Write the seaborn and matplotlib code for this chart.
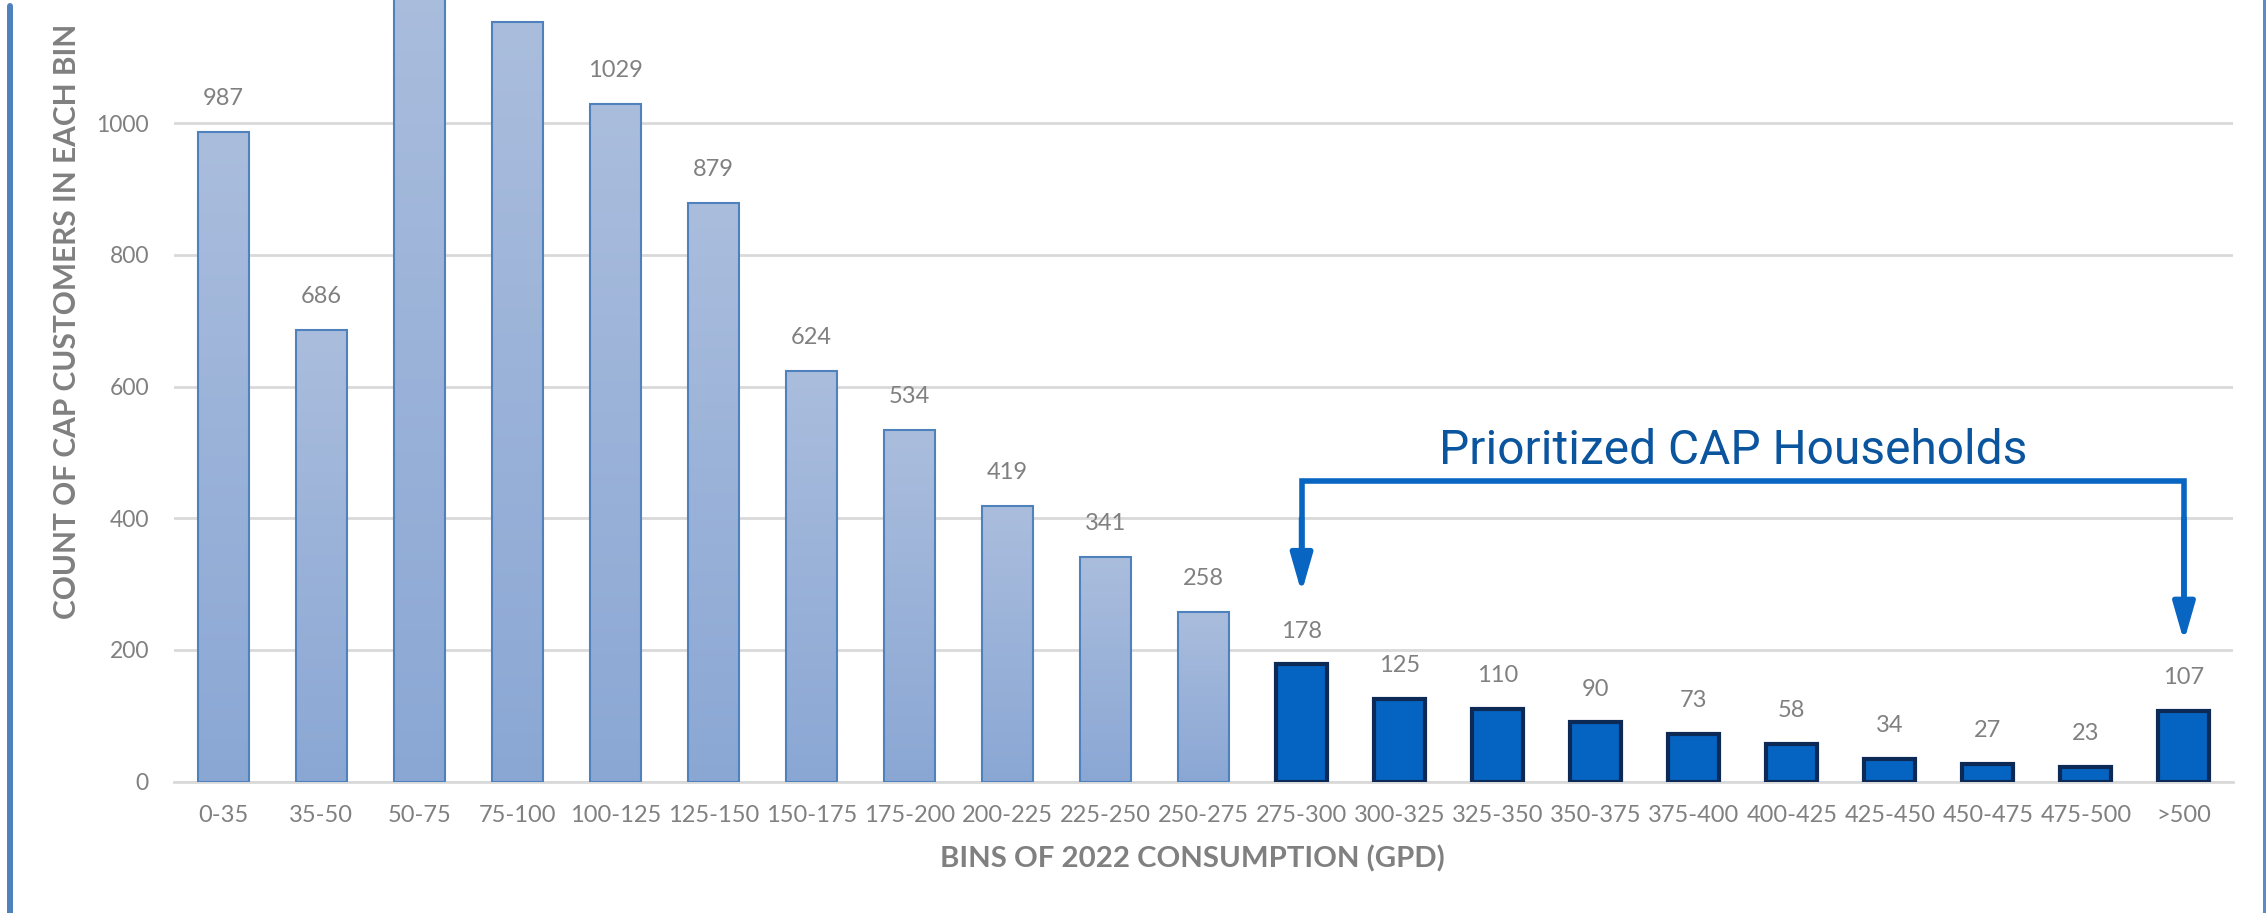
import numpy as np
import pandas as pd
import matplotlib
matplotlib.use("Agg")
import matplotlib.pyplot as plt
from matplotlib.lines import Line2D
from matplotlib.colors import LinearSegmentedColormap
import seaborn as sns

# ---------------- data ----------------
bins = ["0-35", "35-50", "50-75", "75-100", "100-125", "125-150", "150-175",
        "175-200", "200-225", "225-250", "250-275", "275-300", "300-325",
        "325-350", "350-375", "375-400", "400-425", "425-450", "450-475",
        "475-500", ">500"]
counts = [987, 686, 1225, 1153, 1029, 879, 624, 534, 419, 341, 258,
          178, 125, 110, 90, 73, 58, 34, 27, 23, 107]
prioritized_bins = ["275-300", "300-325", "325-350", "350-375", "375-400",
                    "400-425", "425-450", "450-475", "475-500", ">500"]
y_ticks = [0, 200, 400, 600, 800, 1000]
y_label = "COUNT OF CAP CUSTOMERS IN EACH BIN"
x_label = "BINS OF 2022 CONSUMPTION (GPD)"
annotation_text = "Prioritized CAP Households"

df = pd.DataFrame({
    "bin": bins,
    "count": counts,
    "group": ["Prioritized" if b in prioritized_bins else "Other" for b in bins],
})

# ---------------- style ----------------
sns.set_theme(style="white")
plt.rcParams["font.family"] = ["Lato", "DejaVu Sans"]

W, H, DPI = 2266, 913, 100
fig = plt.figure(figsize=(W / DPI, H / DPI), dpi=DPI)
ax_left, ax_right, ax_bottom_px = 174, 2233, 781.7
ax = fig.add_axes([ax_left / W, 1 - ax_bottom_px / H,
                   (ax_right - ax_left) / W, ax_bottom_px / H])

light_top, light_bottom = "#aabddd", "#8aa7d4"
light_edge = "#4f81bd"
dark_fill, dark_edge = "#0563c1", "#0c2a55"
gray = "#808080"

sns.barplot(data=df, x="bin", y="count", hue="group", dodge=False,
            palette={"Other": light_bottom, "Prioritized": dark_fill},
            width=0.52, legend=False, ax=ax, zorder=3)

Y_MAX = 1187
ax.set_xlim(-0.5, len(bins) - 0.5)
ax.set_ylim(0, Y_MAX)

# gradient fill for the light bars
grad_cmap = LinearSegmentedColormap.from_list("g", [light_bottom, light_top])
grad = np.linspace(0, 1, 256).reshape(-1, 1)

bar_by_idx = {}
for p in ax.patches:
    if p.get_height() <= 0:
        continue
    idx = int(round(p.get_x() + p.get_width() / 2))
    bar_by_idx[idx] = p

for idx, p in bar_by_idx.items():
    if bins[idx] in prioritized_bins:
        p.set_facecolor(dark_fill)
        p.set_edgecolor(dark_edge)
        p.set_linewidth(3.0)
    else:
        p.set_facecolor("none")
        p.set_edgecolor(light_edge)
        p.set_linewidth(1.5)
        x0, w, h = p.get_x(), p.get_width(), p.get_height()
        im = ax.imshow(grad, cmap=grad_cmap, origin="lower", aspect="auto",
                       extent=[x0, x0 + w, 0, h], zorder=2.9,
                       interpolation="bilinear")
        im.set_clip_path(p)

ax.set_xlim(-0.5, len(bins) - 0.5)
ax.set_ylim(0, Y_MAX)

# value labels
labels = []
for idx, p in sorted(bar_by_idx.items()):
    t = ax.annotate(str(counts[idx]),
                    xy=(p.get_x() + p.get_width() / 2, counts[idx]),
                    xytext=(0, 16.5), textcoords="offset points",
                    ha="center", va="bottom", fontsize=17, color=gray)
    labels.append(t)

# axes styling
ax.set_yticks(y_ticks)
ax.set_yticklabels([str(v) for v in y_ticks])
ax.set_xlabel("")
ax.set_ylabel("")
ax.tick_params(axis="x", length=0, pad=17, labelsize=17, labelcolor=gray)
ax.tick_params(axis="y", length=0, pad=18, labelsize=16.5, labelcolor=gray)
ax.yaxis.grid(True, color="#d9d9d9", lw=2)
ax.xaxis.grid(False)
ax.set_axisbelow(True)
for s in ["top", "left", "right"]:
    ax.spines[s].set_visible(False)
ax.spines["bottom"].set_color("#d9d9d9")
ax.spines["bottom"].set_linewidth(2)

# axis titles
fig.text(67 / W, 1 - 321.5 / H, y_label, rotation=90, ha="center",
         va="center", fontsize=21.5, fontweight="bold", color=gray)
fig.text(1192 / W, 1 - 859 / H, x_label, ha="center", va="center",
         fontsize=21.2, fontweight="bold", color=gray)

# bracket annotation
bracket_color = "#0866c2"
ax.plot([11, 11, 20, 20], [330, 457, 457, 260], color=bracket_color,
        lw=4, solid_joinstyle="miter", solid_capstyle="butt", zorder=5,
        clip_on=False)
for x_pos, tip in [(11, 287), (20, 213)]:
    ax.annotate("", xy=(x_pos, tip), xytext=(x_pos, 400),
                arrowprops=dict(arrowstyle="-|>,head_length=1.15,head_width=0.33",
                                mutation_scale=20, lw=4, color=bracket_color,
                                shrinkA=0, shrinkB=0),
                zorder=5)
ax.text(15.4, 482.5, annotation_text, ha="center", va="baseline",
        fontsize=34.5, color="#0b559f", family=["Roboto", "DejaVu Sans"],
        zorder=6)

# slide frame borders
fig.add_artist(Line2D([10 / W, 10 / W], [0, 1 - 6 / H], color="#4f81bd",
                      lw=4.3, transform=fig.transFigure))
fig.add_artist(Line2D([2263.5 / W, 2263.5 / W], [0, 1], color="#5b8bc9",
                      lw=2.2, transform=fig.transFigure))

# value labels of bars that run past the top of the cropped frame lie outside
# the picture, so they are not shown
fig.canvas.draw()
renderer = fig.canvas.get_renderer()
for t in labels:
    bb = t.get_window_extent(renderer)
    if bb.y0 > H - 20:
        t.set_visible(False)
    elif bb.y1 > H:
        t.set_visible(False)

fig.savefig("out.png", dpi=DPI, facecolor="white")
